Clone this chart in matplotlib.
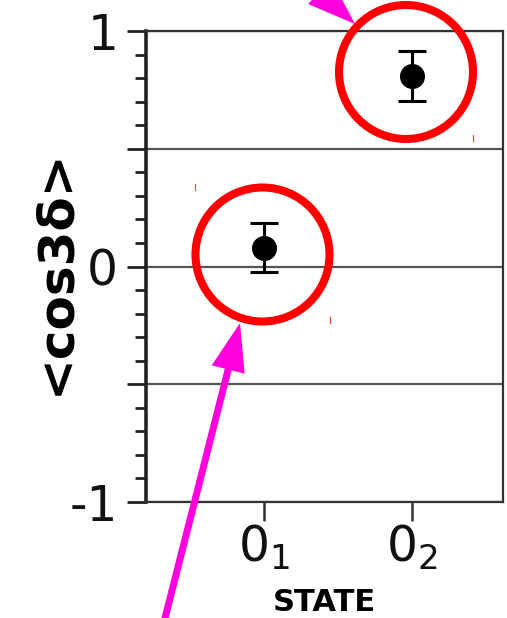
"""<cos3delta> per state, with highlight circles and arrows."""
import matplotlib
matplotlib.use("Agg")
import matplotlib.pyplot as plt
from matplotlib.patches import Circle, FancyArrow
from matplotlib.ticker import MultipleLocator, FuncFormatter

# data
states = [1, 2]
state_labels = [r"$0_1$", r"$0_2$"]
cos3d = [0.08, 0.81]
cos3d_err = [0.105, 0.107]

W, H = 507, 618
fig = plt.figure(figsize=(W / 100, H / 100), dpi=100)

# main axes, placed in pixels
left, right, top, bottom = 146, 503, 31, 502
ax = fig.add_axes([left / W, (H - bottom) / H, (right - left) / W, (bottom - top) / H])

ax.errorbar(states, cos3d, yerr=cos3d_err, fmt="o", color="black",
            markersize=17, elinewidth=2.2, capsize=10, capthick=2.2, zorder=5)

ax.set_xlim(0.2, 2.615)
ax.set_ylim(-1, 1)
ax.set_xticks(states)
ax.set_xticklabels(state_labels)

ax.yaxis.set_major_locator(MultipleLocator(0.5))
ax.yaxis.set_minor_locator(MultipleLocator(0.1))
ax.yaxis.set_major_formatter(FuncFormatter(
    lambda v, pos: "%d" % round(v) if abs(v - round(v)) < 1e-6 else ""))

ax.grid(True, axis="y", which="major", color="#555555", linewidth=1.6)
ax.set_axisbelow(True)

for sp in ax.spines.values():
    sp.set_color("#333333")
    sp.set_linewidth(1.6)
ax.spines["left"].set_linewidth(2.6)
ax.spines["left"].set_color("#222222")

ax.tick_params(axis="y", which="major", length=14, width=2, color="#222222",
               labelsize=35, labelcolor="#111111", pad=6)
ax.tick_params(axis="y", which="minor", length=8, width=2, color="#222222")
ax.tick_params(axis="x", which="major", length=14, width=1.8, color="#333333",
               labelsize=35, labelcolor="#111111", pad=1)

ax.set_ylabel("<cos3\u03b4>", fontsize=36, fontweight="bold")
ax.yaxis.label.set_va("center")
ax.yaxis.set_label_coords(-0.255, 0.49)

ax.set_xlabel("STATE", fontsize=22, fontweight="bold")
ax.xaxis.label.set_va("baseline")
ax.xaxis.set_label_coords(0.5, -0.232)

# overlay in pixel coordinates for the highlight marks
ov = fig.add_axes([0, 0, 1, 1], zorder=10)
ov.set_xlim(0, W)
ov.set_ylim(H, 0)
ov.axis("off")
ov.patch.set_alpha(0)

for cx, cy in [(262.5, 254.5), (406, 72)]:
    ov.add_patch(Circle((cx, cy), 67, fill=False, edgecolor="#ff0000", linewidth=5.8))

ov.add_patch(FancyArrow(162, 630, 78, -307, width=7, head_width=34, head_length=48,
                        length_includes_head=True, color="#ff00dd", linewidth=0))
ov.add_patch(FancyArrow(208, -111, 147, 135, width=7, head_width=34, head_length=48,
                        length_includes_head=True, color="#ff00dd", linewidth=0))

for x, y in [(195, 187), (330, 320), (473, 138)]:
    ov.plot([x, x], [y - 3, y + 3], color="#ff3333", linewidth=0.8)

fig.savefig("out.png", dpi=100)
